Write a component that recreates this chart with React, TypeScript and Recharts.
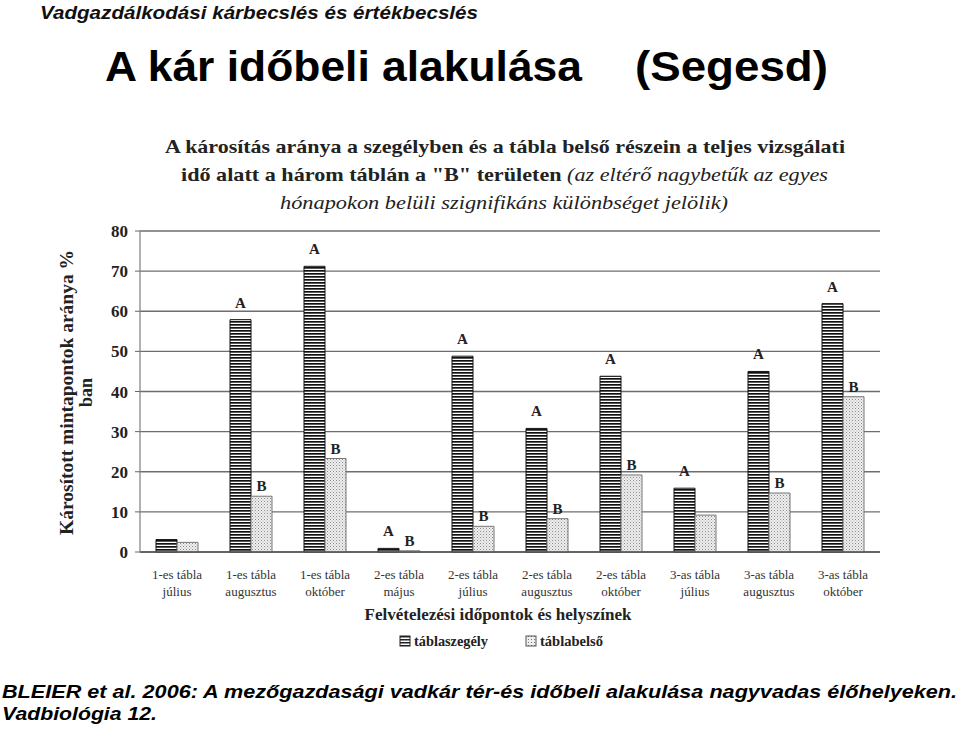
import React from 'react';
import { BarChart, Bar, XAxis, YAxis, CartesianGrid, LabelList, ReferenceLine } from 'recharts';

const tables = ['1-es tábla', '1-es tábla', '1-es tábla', '2-es tábla', '2-es tábla', '2-es tábla', '2-es tábla', '3-as tábla', '3-as tábla', '3-as tábla'];
const months = ['július', 'augusztus', 'október', 'május', 'július', 'augusztus', 'október', 'július', 'augusztus', 'október'];
const szegely = [3.1, 57.9, 71.2, 0.9, 48.8, 30.8, 43.8, 15.9, 45.0, 61.9];
const belso = [2.4, 13.9, 23.3, 0.3, 6.4, 8.3, 19.2, 9.2, 14.7, 38.7];
const lettersA = ['', 'A', 'A', 'A', 'A', 'A', 'A', 'A', 'A', 'A'];
const lettersB = ['', 'B', 'B', 'B', 'B', 'B', 'B', '', 'B', 'B'];
const yTicks = [0, 10, 20, 30, 40, 50, 60, 70, 80];
const boundaryTicks = [0, 1, 2, 3, 4, 5, 6, 7, 8, 9, 10];

const seriesNames = ['táblaszegély', 'táblabelső'];

const data = tables.map((t, i) => ({
  name: t + '\n' + months[i],
  szegely: szegely[i],
  belso: belso[i],
  la: lettersA[i],
  lb: lettersB[i],
}));

const SERIF = '"Liberation Serif", "DejaVu Serif", serif';
const SANS = '"Liberation Sans", Arial, sans-serif';

const XTick = (props: any) => {
  const { x, y, payload } = props;
  const parts = String(payload.value).split('\n');
  return (
    <g>
      <text x={x} y={y + 19} textAnchor="middle" fontFamily={SERIF} fontSize={13} fill="#333">{parts[0]}</text>
      <text x={x} y={y + 36} textAnchor="middle" fontFamily={SERIF} fontSize={13} fill="#333">{parts[1]}</text>
    </g>
  );
};

const YLabel = (props: any) => {
  const vb = props.viewBox || { x: 0, y: 231, width: 140, height: 321 };
  const cy = vb.y + vb.height / 2 + 1;
  const x1 = vb.x + 73;
  const x2 = vb.x + 92;
  return (
    <g>
      <text x={x1} y={cy} transform={`rotate(-90 ${x1} ${cy})`} textAnchor="middle" fontFamily={SERIF} fontWeight="bold" fontSize={18} fill="#222" textLength={285} lengthAdjust="spacingAndGlyphs">Károsított mintapontok aránya %</text>
      <text x={x2} y={cy} transform={`rotate(-90 ${x2} ${cy})`} textAnchor="middle" fontFamily={SERIF} fontWeight="bold" fontSize={18} fill="#222">ban</text>
    </g>
  );
};

export default function App() {
  return (
    <div style={{ position: 'absolute', left: 0, top: 0, width: 960, height: 736, background: '#fff' }}>
      <BarChart
        width={960}
        height={736}
        data={data}
        margin={{ top: 231, right: 80, left: 0, bottom: 104 }}
        barGap={0}
        barSize={21}
      >
        <defs>
          <pattern id="stripes" patternUnits="userSpaceOnUse" width={4} height={3}>
            <rect x={0} y={0} width={4} height={3} fill="#ffffff" />
            <rect x={0} y={0} width={4} height={1.7} fill="#111111" />
          </pattern>
          <pattern id="dots" patternUnits="userSpaceOnUse" width={3} height={3}>
            <rect x={0} y={0} width={3} height={3} fill="#efefef" />
            <rect x={0} y={0} width={1} height={1} fill="#8a8a8a" />
            <rect x={1.5} y={1.5} width={1} height={1} fill="#a8a8a8" />
          </pattern>
        </defs>
        <CartesianGrid vertical={false} stroke="#6e6e6e" strokeWidth={1.3} xAxisId="c" />
        <XAxis
          xAxisId="n"
          type="number"
          domain={[0, 10]}
          ticks={boundaryTicks}
          height={0}
          axisLine={false}
          tickLine={{ stroke: '#555' }}
          tickSize={6}
          tickFormatter={() => ''}
        />
        <XAxis
          xAxisId="c"
          dataKey="name"
          interval={0}
          height={80}
          tickLine={false}
          axisLine={{ stroke: '#555', strokeWidth: 1.3 }}
          tick={<XTick />}
          label={{ value: 'Felvételezési időpontok és helyszínek', position: 'insideBottom', offset: 12, dx: -12, fontFamily: SERIF, fontWeight: 'bold', fontSize: 17, fill: '#222' }}
        />
        <YAxis
          width={140}
          domain={[0, 80]}
          ticks={yTicks}
          interval={0}
          tickSize={5}
          tickMargin={7}
          axisLine={{ stroke: '#888', strokeWidth: 1.3 }}
          tickLine={{ stroke: '#666' }}
          tick={{ fontFamily: SERIF, fontWeight: 'bold', fontSize: 17, fill: '#222' }}
          label={<YLabel />}
        />
        <ReferenceLine x={10} xAxisId="n" stroke="#888" strokeWidth={1.3} />
        <Bar xAxisId="c" dataKey="szegely" name={seriesNames[0]} fill="url(#stripes)" stroke="#111" strokeWidth={1} isAnimationActive={false}>
          <LabelList dataKey="la" position="top" offset={12} fontFamily={SERIF} fontWeight="bold" fontSize={15} fill="#222" />
        </Bar>
        <Bar xAxisId="c" dataKey="belso" name={seriesNames[1]} fill="url(#dots)" stroke="#777" strokeWidth={1} isAnimationActive={false}>
          <LabelList dataKey="lb" position="top" offset={5} fontFamily={SERIF} fontWeight="bold" fontSize={15} fill="#222" />
        </Bar>
      </BarChart>
      <svg width={960} height={736} style={{ position: 'absolute', left: 0, top: 0, pointerEvents: 'none' }}>
        <defs>
          <pattern id="lgStripes" patternUnits="userSpaceOnUse" width={4} height={3}>
            <rect x={0} y={0} width={4} height={3} fill="#ffffff" />
            <rect x={0} y={0} width={4} height={1.5} fill="#222" />
          </pattern>
          <pattern id="lgDots" patternUnits="userSpaceOnUse" width={3} height={3}>
            <rect x={0} y={0} width={3} height={3} fill="#efefef" />
            <rect x={0} y={0} width={1} height={1} fill="#777" />
          </pattern>
        </defs>
        <text x={40} y={19} fontFamily={SANS} fontStyle="italic" fontWeight="bold" fontSize={19} fill="#111" textLength={438} lengthAdjust="spacingAndGlyphs">Vadgazdálkodási kárbecslés és értékbecslés</text>
        <text x={105} y={81} fontFamily={SANS} fontWeight="bold" fontSize={43} fill="#000" textLength={477} lengthAdjust="spacingAndGlyphs">A kár időbeli alakulása</text>
        <text x={635} y={81} fontFamily={SANS} fontWeight="bold" fontSize={43} fill="#000" textLength={193} lengthAdjust="spacingAndGlyphs">(Segesd)</text>
        <text x={505} y={153} textAnchor="middle" fontFamily={SERIF} fontWeight="bold" fontSize={19} fill="#222" textLength={680} lengthAdjust="spacingAndGlyphs">A károsítás aránya a szegélyben és a tábla belső részein a teljes vizsgálati</text>
        <text x={181} y={181} fontFamily={SERIF} fontSize={19} fill="#222" textLength={647} lengthAdjust="spacingAndGlyphs">
          <tspan fontWeight="bold">idő alatt a három táblán a "B" területen </tspan>
          <tspan fontStyle="italic">(az eltérő nagybetűk az egyes</tspan>
        </text>
        <text x={504} y={209} textAnchor="middle" fontFamily={SERIF} fontStyle="italic" fontSize={19} fill="#222" textLength={448} lengthAdjust="spacingAndGlyphs">hónapokon belüli szignifikáns különbséget jelölik)</text>
        <rect x={400} y={636} width={10} height={10} fill="url(#lgStripes)" stroke="#222" strokeWidth={1} />
        <text x={414} y={646} fontFamily={SERIF} fontWeight="bold" fontSize={14} fill="#222" textLength={74} lengthAdjust="spacingAndGlyphs">{seriesNames[0]}</text>
        <rect x={526} y={636} width={10} height={10} fill="url(#lgDots)" stroke="#555" strokeWidth={1} />
        <text x={540} y={646} fontFamily={SERIF} fontWeight="bold" fontSize={14} fill="#222" textLength={63} lengthAdjust="spacingAndGlyphs">{seriesNames[1]}</text>
        <text x={2} y={698} fontFamily={SANS} fontStyle="italic" fontWeight="bold" fontSize={19} fill="#000" textLength={955} lengthAdjust="spacingAndGlyphs">BLEIER et al. 2006: A mezőgazdasági vadkár tér-és időbeli alakulása nagyvadas élőhelyeken.</text>
        <text x={2} y={720} fontFamily={SANS} fontStyle="italic" fontWeight="bold" fontSize={19} fill="#000" textLength={155} lengthAdjust="spacingAndGlyphs">Vadbiológia 12.</text>
      </svg>
    </div>
  );
}
